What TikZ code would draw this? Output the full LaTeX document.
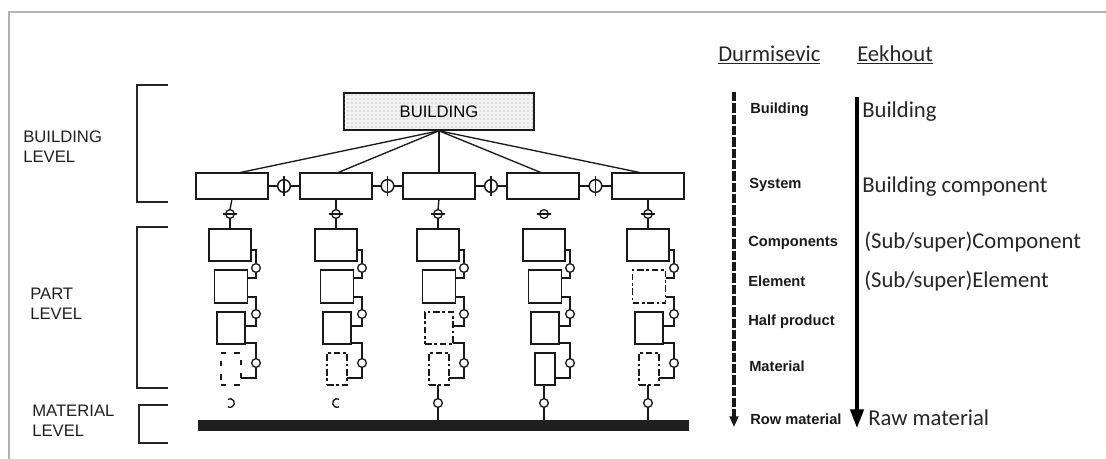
\documentclass[tikz,border=0pt]{standalone}
\usepackage{fontspec}
\setmainfont{Liberation Sans}
\newfontfamily\calfont{Carlito}
\usetikzlibrary{patterns,arrows.meta,calc}
\begin{document}
\begin{tikzpicture}[x=0.75pt,y=-0.75pt,
  lvl/.style={font=\fontsize{12.5}{15}\selectfont, text=black!88, align=left, anchor=west, inner sep=0},
  dur/.style={font=\fontsize{11}{13}\selectfont\bfseries, text=black!90, anchor=west, inner sep=0},
  eek/.style={font=\calfont\fontsize{17}{20}\selectfont, text=black!85, anchor=west, inner sep=0},
  bracket/.style={line width=1.6pt, black!85},
  sysbox/.style={draw=black!90, line width=1.2pt, minimum width=54pt, minimum height=19.5pt, inner sep=0, outer sep=0},
  solidb/.style={draw=black!90, line width=1.15pt},
  wornb/.style={draw=black!90, line width=1.15pt, dash pattern=on 5pt off 2pt on 2pt off 2pt},
  goneb/.style={draw=black!90, line width=1pt, dash pattern=on 4pt off 6pt},
  part/.style={inner sep=0, outer sep=0},
  joint/.style={circle, draw=black!90, line width=1pt, minimum size=6.5pt, inner sep=0, outer sep=0},
  bigjoint/.style={circle, draw=black!90, line width=1.1pt, minimum size=9.5pt, inner sep=0, outer sep=0},
  wire/.style={black!90, line width=1pt}
]
\useasboundingbox (0,0) rectangle (1106,459);
% frame
\draw[gray!60, line width=1.3pt] (9,459) -- (9,12) -- (1106,12);

% level labels and brackets
\node[lvl] (lbuild) at (23,147) {BUILDING\\LEVEL};
\node[lvl] (lpart) at (30,304) {PART\\LEVEL};
\node[lvl] (lmat) at (32,421) {MATERIAL\\LEVEL};
\draw[bracket] (168,85) -- (137,85) -- (137,202) -- (168,202);
\draw[bracket] (168,227) -- (137,227) -- (137,388) -- (168,388);
\draw[bracket] (168,405) -- (139,405) -- (139,443) -- (168,443);

% building node
\node[draw=black!90, line width=1.2pt, fill=gray!10, minimum width=142.5pt, minimum height=27.75pt, inner sep=0,
      postaction={pattern=dots, pattern color=gray!70},
      font=\fontsize{12.5}{14}\selectfont] (bld) at (439,111.5) {BUILDING};

% system boxes
\foreach \i/\c in {1/232,2/336,3/439,4/543,5/648}{
  \node[sysbox] (sys\i) at (\c,186) {};
}
\foreach \i/\s in {1/4.5pt,2/0.75pt,3/0pt,4/-0.75pt,5/-4.5pt}{
  \draw[wire] (bld.south) -- ([xshift=\s]sys\i.north);
}
\foreach \i/\j in {1/2,2/3,3/4,4/5}{
  \node[bigjoint] (h\i) at ($(sys\i.east)!0.5!(sys\j.west)$) {};
  \draw[wire] (sys\i.east) -- (h\i.west);
  \draw[wire] (h\i.east) -- (sys\j.west);
  \draw[wire] ([yshift=7.3pt]h\i.center) -- ([yshift=-7.3pt]h\i.center);
}

% base bar
\node[fill=black!88, draw=black!88, minimum width=367.5pt, minimum height=7.5pt, inner sep=0, outer sep=0] (base) at (443,425) {};

% component columns
\foreach \i/\c/\sa/\sb/\sc/\sd in {1/230/solidb/solidb/solidb/goneb,2/336/solidb/solidb/solidb/wornb,3/438/solidb/solidb/wornb/wornb,4/544/solidb/solidb/solidb/solidb,5/648/solidb/wornb/solidb/wornb}{
  \node[part,\sa, minimum width=31.5pt, minimum height=24pt] (A\i) at (\c,245) {};
  \node[part,\sb, minimum width=24.75pt, minimum height=24.75pt] (B\i) at (\c+1,286.5) {};
  \node[part,\sc, minimum width=21pt, minimum height=24pt] (C\i) at (\c+1,328) {};
  \node[part,\sd, minimum width=15pt, minimum height=24pt] (D\i) at (\c+1,369) {};
  % system to component coupling
  \node[joint] (v\i) at (\c,214) {};
  \draw[wire] ([xshift=-5.5pt]v\i.center) -- ([xshift=5.5pt]v\i.center);
  % joints between parts
  \node[joint] (ja\i) at (\c+26,268) {};
  \node[joint] (jb\i) at (\c+26,314) {};
  \node[joint] (jc\i) at (\c+26,363) {};
  \draw[wire] ([yshift=-3.75pt]A\i.east) -| (ja\i.north);
  \draw[wire] (ja\i.south) |- ([yshift=6.4pt]B\i.east);
  \draw[wire] ([yshift=-7.9pt]B\i.east) -| (jb\i.north);
  \draw[wire] (jb\i.south) |- ([yshift=1.5pt]C\i.east);
  \draw[wire] ([yshift=-11.25pt]C\i.east) -| (jc\i.north);
  \draw[wire] (jc\i.south) |- ([yshift=-6.75pt]D\i.east);
}
\foreach \i in {1,2,3,5}{
  \draw[wire] (sys\i.south) -- (v\i.north);
  \draw[wire] (v\i.south) -- (A\i.north);
}
% bottom couplings
\node[part, minimum size=6.5pt, circle] (b1) at (230,403) {};
\node[part, minimum size=6.5pt, circle] (b2) at (337,403) {};
\draw[wire] (b1.120) arc[start angle=120, end angle=-120, radius=3.25pt];
\draw[wire] (b2.60) arc[start angle=60, end angle=300, radius=3.25pt];
\foreach \i/\c in {3/438,4/544,5/648}{
  \node[joint] (b\i) at (\c,403) {};
  \draw[wire] (D\i.south -| b\i) -- (b\i.north);
  \draw[wire] (b\i.south) -- (b\i.south |- base.north);
}

% right side scales
\node[eek] (hdur) at (718,55) {\underline{Durmisevic}};
\node[eek] (heek) at (857,55) {\underline{Eekhout}};

\coordinate (ds) at (734,92);
\coordinate (de) at (734,427);
\draw[black!90, line width=2.4pt, dash pattern=on 7pt off 1.5pt, -{Triangle[width=6.5pt,length=8pt]}] (ds) -- (de);
\coordinate (es) at (857,97);
\coordinate (ee) at (857,428);
\draw[black, line width=2.5pt, -{Triangle[width=10pt,length=14pt]}] (es) -- (ee);

\node[dur] (d1) at (750,110) {Building};
\node[dur] (d2) at (749,185) {System};
\node[dur] (d3) at (748,243) {Components};
\node[dur] (d4) at (748,281) {Element};
\node[dur] (d5) at (748,322) {Half product};
\node[dur] (d6) at (749,366) {Material};
\node[dur] (d7) at (750,419) {Row material};

\node[eek] (e1) at (862,112) {Building};
\node[eek] (e2) at (862,187) {Building component};
\node[eek] (e3) at (864,242) {(Sub/super)Component};
\node[eek] (e4) at (864,281) {(Sub/super)Element};
\node[eek] (e5) at (868,418) {Raw material};
\end{tikzpicture}
\end{document}
